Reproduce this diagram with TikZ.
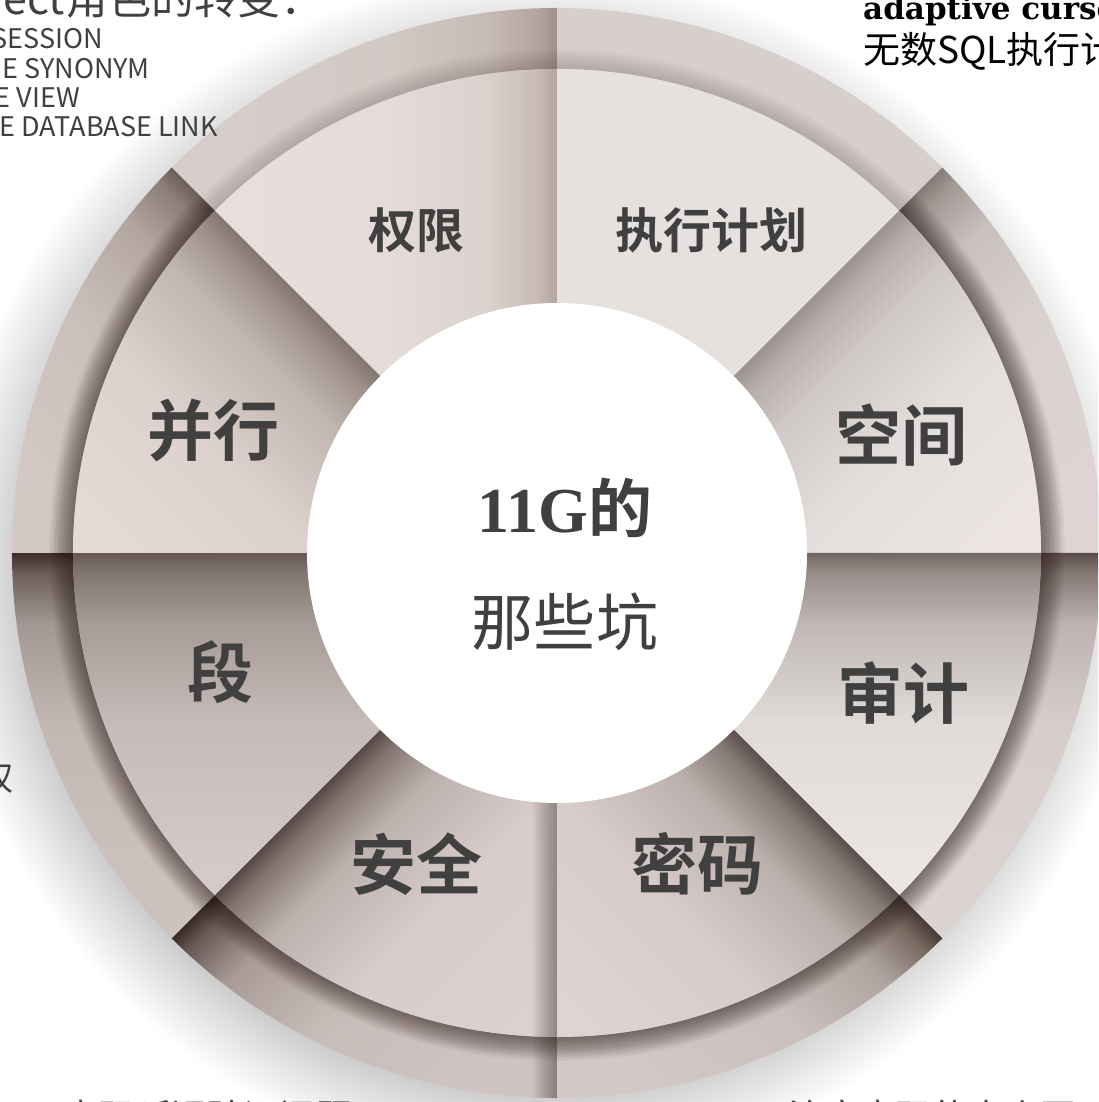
\documentclass[tikz,border=0pt]{standalone}
\usepackage{fontspec}
\setmainfont{Liberation Serif}
\newfontfamily\cjk{Noto Sans CJK SC}[BoldFont={* Bold}]
\newfontfamily\slab{DejaVu Serif}
\definecolor{txt}{HTML}{404040}
\definecolor{shd}{HTML}{2E211E}
\definecolor{fa}{HTML}{000000}
\definecolor{fb}{HTML}{000000}
\definecolor{fc}{HTML}{000000}
\definecolor{fd}{HTML}{000000}
\definecolor{fe}{HTML}{000000}
\pgfdeclarehorizontalshading[fa,fb,fc,fd,fe]{fold}{100bp}{color(0bp)=(fa); color(50bp)=(fa); color(50.89bp)=(fb); color(53.13bp)=(fc); color(57.59bp)=(fd); color(64.29bp)=(fe); color(100bp)=(fe)}
\definecolor{g1}{HTML}{C8C8C8}
\definecolor{g2}{HTML}{DCDCDC}
\pgfdeclareradialshading{glow}{\pgfpointorigin}{color(0bp)=(g1); color(21.5bp)=(g1); color(22.7bp)=(g2); color(25bp)=(white); color(50bp)=(white)}
\newcommand\foldseg[8]{%
  \begin{scope}
    \definecolor{fa}{HTML}{#4}\definecolor{fb}{HTML}{#5}\definecolor{fc}{HTML}{#6}%
    \definecolor{fd}{HTML}{#7}\definecolor{fe}{HTML}{#8}%
    \clip (#1:\rB) arc[start angle=#1, end angle=#2, radius=\rB] -- (#2:\rA) arc[start angle=#2, end angle=#1, radius=\rA] -- cycle;
    \shade[shading=fold, shading angle=#3] (-560,-560) rectangle (560,560);
  \end{scope}}
\tikzset{
  lbl/.style={text=txt, inner sep=0pt, anchor=center},
  biglbl/.style={lbl, font=\cjk\bfseries\fontsize{66}{66}\selectfont},
  midlbl/.style={lbl, font=\cjk\bfseries\fontsize{48}{48}\selectfont},
  sidetxt/.style={text=txt, inner sep=0pt}
}
\begin{document}
\begin{tikzpicture}[x=1pt,y=1pt]
\useasboundingbox (-557,-549) rectangle (541,553);
\clip (-557,-549) rectangle (541,553);
\fill[white] (-557,-549) rectangle (541,553);
% soft drop shadow
\shade[shading=glow] (-15,-18) circle (600);
% outer ring segments
\def\rA{484}\def\rB{545}
\foldseg{90}{135}{180}{9F918A}{B3A59F}{C7BBB6}{D2C8C4}{D6CDCA}
\foldseg{45}{90}{180}{D6CFCC}{D9D2D0}{DBD4D2}{DCD5D3}{DCD5D3}
\foldseg{0}{45}{-45}{857A76}{A39995}{C8C0BD}{D8D1CE}{DCD5D3}
\foldseg{-45}{0}{-90}{5A4D49}{857975}{BCB3B0}{D5CECB}{DAD3D1}
\foldseg{-90}{-45}{-135}{473A36}{75685F}{B0A4A0}{CBC0BD}{D3C8C5}
\foldseg{-135}{-90}{315}{382A26}{675A56}{A89B97}{C8BCB9}{CFC4C1}
\foldseg{180}{225}{270}{3B2E2A}{6B5E5A}{A39793}{C3B7B4}{CDC1BE}
\foldseg{135}{180}{225}{6C5F5A}{8C7F7A}{B3A6A1}{CBBFBB}{D3C8C4}
% inner shadow of the ring
\begin{scope}[even odd rule]
  \clip (0,0) circle (545) (0,0) circle (484);
  \foreach \w in {4,8,...,40} \draw[shd, line width=\w pt, opacity=0.02] (0,0) circle (484);
  \foreach \w in {4,8,...,48} \draw[shd, line width=\w pt, opacity=0.045] (135:484) arc[start angle=135, end angle=405, radius=484];
\end{scope}
% wedges
\def\rA{240}\def\rB{484}
\foldseg{90}{135}{180}{B3A59D}{C8BCB5}{DBD1CD}{E5DCD9}{E8DFDC}
\foldseg{45}{90}{180}{E6E0DF}{E8E2E1}{EAE4E3}{EBE5E4}{EBE5E4}
\foldseg{0}{45}{-45}{9B928E}{B4ACA8}{D0C9C6}{E4DEDC}{ECE5E3}
\foldseg{-45}{0}{-90}{736763}{978D89}{C0B8B5}{E0DBD8}{EBE5E4}
\foldseg{-90}{-45}{-135}{5B4E4A}{857975}{BCB0AD}{D8CCCA}{E0D4D2}
\foldseg{-135}{-90}{315}{564945}{827571}{BDB1AE}{D8CDCA}{DCD1CE}
\foldseg{180}{225}{270}{665955}{827672}{A79B97}{C6BBB8}{D5CAC7}
\foldseg{135}{180}{225}{827570}{9D908A}{C2B6B1}{DCD1CD}{E4DAD6}
% dark fold along the lower vertical edge
\begin{scope}
  \clip (0,0) -- (225:545) arc[start angle=225, end angle=270, radius=545] -- cycle;
  \foreach \w in {2,4,...,24} \fill[shd, opacity=0.04] (-\w,0) rectangle (0,-560);
\end{scope}
% centre disc
\fill[white] (0,0) circle (250);
% labels
\node[midlbl] (quanxian) at (-140,323) {权限};
\node[midlbl] (zhixing) at (154,323) {执行计划};
\node[biglbl] (bingxing) at (-343,123) {并行};
\node[biglbl] (kongjian) at (344,118) {空间};
\node[biglbl] (duan) at (-336,-119) {段};
\node[biglbl] (shenji) at (346,-140) {审计};
\node[biglbl] (anquan) at (-140,-311) {安全};
\node[biglbl] (mima) at (140,-311) {密码};
\node[lbl, font=\bfseries\fontsize{64}{64}\selectfont] (title1) at (8,45) {11G{\cjk 的}};
\node[lbl, font=\cjk\fontsize{62}{62}\selectfont] (title2) at (8,-69) {那些坑};
% surrounding (cut-off) texts
\node[sidetxt, anchor=base east, font=\cjk\fontsize{43}{43}\selectfont] (tl0) at (-492,538) {nect};
\node[sidetxt, anchor=base west, font=\cjk\fontsize{43}{43}\selectfont] (tl1) at (-492,538) {角色的转变：};
\node[sidetxt, anchor=base east, font=\cjk\fontsize{27}{27}\selectfont] (tl2) at (-454,504) {SESSION};
\node[sidetxt, anchor=base east, font=\cjk\fontsize{27}{27}\selectfont] (tl3) at (-407,474) {E SYNONYM};
\node[sidetxt, anchor=base east, font=\cjk\fontsize{27}{27}\selectfont] (tl4) at (-477,445) {E VIEW};
\node[sidetxt, anchor=base east, font=\cjk\fontsize{27}{27}\selectfont] (tl5) at (-339,416) {E DATABASE LINK};
\node[sidetxt, anchor=base east, font=\cjk\fontsize{34}{34}\selectfont] (lf1) at (-543,-237) {权};
\node[sidetxt, anchor=base west, font=\slab\bfseries\fontsize{31}{31}\selectfont, text=black] (tr1) at (306,533) {adaptive cursor sharing};
\node[sidetxt, anchor=base west, font=\cjk\fontsize{37}{37}\selectfont, text=black] (tr2) at (306,489) {无数SQL执行计划};
\node[sidetxt, anchor=base west, font=\cjk\fontsize{36}{36}\selectfont] (bl1) at (-494,-577) {密码延迟验证问题};
\node[sidetxt, anchor=base west, font=\cjk\fontsize{36}{36}\selectfont] (br1) at (231,-577) {注意密码的大小写};
\end{tikzpicture}
\end{document}
